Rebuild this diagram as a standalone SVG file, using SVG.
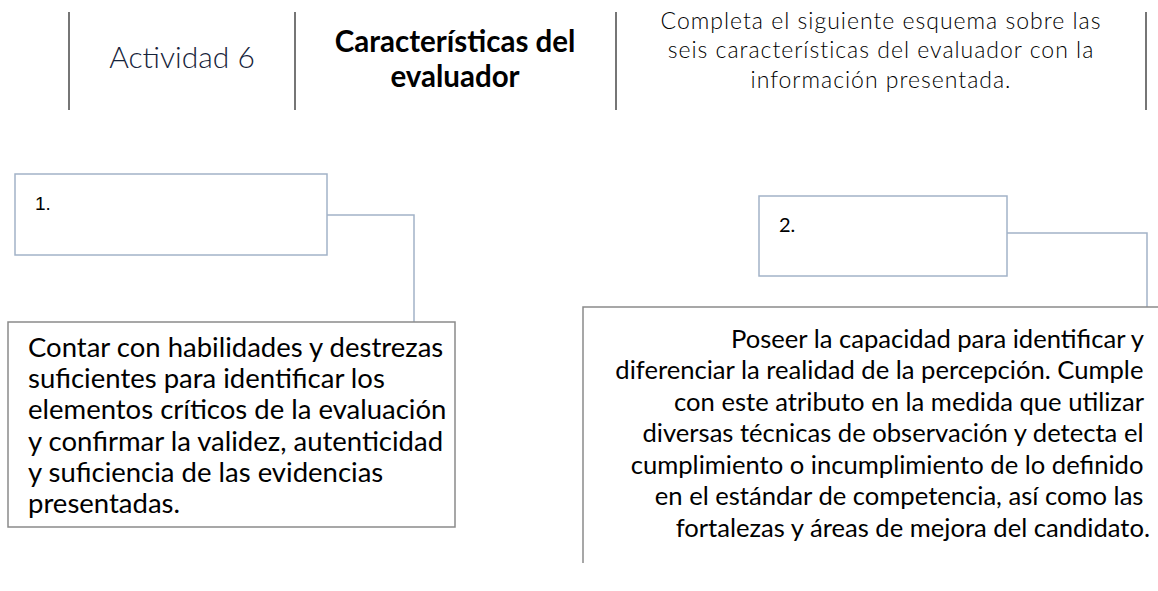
<svg xmlns="http://www.w3.org/2000/svg" width="1158" height="591" viewBox="0 0 1158 591">
<style>
.hdr{stroke:#767676;stroke-width:2;fill:none}
.hand{font-family:Lato,"Open Sans",sans-serif;font-weight:300;fill:#000}
.title{font-family:Lato,"Liberation Sans",sans-serif;font-weight:700;font-size:29.5px;fill:#000;text-anchor:middle}
.sbox{fill:#fff;stroke:#a2b3c8;stroke-width:1.5}
.gbox{fill:#fff;stroke:#8a8a8a;stroke-width:1.5}
.conn{fill:none;stroke:#a2b3c8;stroke-width:1.5}
.body{font-family:Lato,"Liberation Sans",sans-serif;fill:#000}
</style>
<rect width="1158" height="591" fill="#fff"/>
<g id="header">
<line class="hdr" x1="69" y1="12" x2="69" y2="110"/>
<line class="hdr" x1="295" y1="12" x2="295" y2="110"/>
<line class="hdr" x1="616" y1="12" x2="616" y2="110"/>
<line class="hdr" x1="1146" y1="12" x2="1146" y2="110"/>
<text class="hand" x="182" y="68" font-size="30" text-anchor="middle" style="fill:#16233a">Actividad 6</text>
<text class="title" x="455" y="52">Características del</text>
<text class="title" x="455" y="87">evaluador</text>
<text class="hand" x="881" y="29" font-size="23" letter-spacing="1" text-anchor="middle">Completa el siguiente esquema sobre las</text>
<text class="hand" x="881" y="58" font-size="23" letter-spacing="1" text-anchor="middle">seis características del evaluador con la</text>
<text class="hand" x="881" y="88" font-size="23" letter-spacing="1" text-anchor="middle">información presentada.</text>
</g>
<g id="connectors">
<polyline class="conn" points="327,215 414,215 414,322"/>
<polyline class="conn" points="1007,233 1147,233 1147,307"/>
</g>
<g id="node1">
<rect class="sbox" x="15" y="174" width="312" height="81"/>
<text x="35" y="210" font-family="'Liberation Sans',Arial,sans-serif" font-size="19" fill="#000">1.</text>
</g>
<g id="node2">
<rect class="sbox" x="759" y="196" width="248" height="80"/>
<text class="body" x="779" y="232" font-size="20">2.</text>
</g>
<g id="desc1">
<rect class="gbox" x="8" y="322" width="447" height="205"/>
<text class="body" font-size="27.5">
<tspan x="28" y="357">Contar con habilidades y destrezas</tspan>
<tspan x="28" y="388">suficientes para identificar los</tspan>
<tspan x="28" y="419">elementos críticos de la evaluación</tspan>
<tspan x="28" y="451">y confirmar la validez, autenticidad</tspan>
<tspan x="28" y="482">y suficiencia de las evidencias</tspan>
<tspan x="28" y="513">presentadas.</tspan>
</text>
</g>
<g id="desc2">
<polyline class="gbox" style="fill:none" points="583,563 583,307 1158,307"/>
<text class="body" font-size="25.6" text-anchor="end">
<tspan x="1150" y="348">Poseer la capacidad para identificar y</tspan>
<tspan x="1150" y="379">diferenciar la realidad de la percepción. Cumple</tspan>
<tspan x="1150" y="411">con este atributo en la medida que utilizar</tspan>
<tspan x="1150" y="442">diversas técnicas de observación y detecta el</tspan>
<tspan x="1150" y="474">cumplimiento o incumplimiento de lo definido</tspan>
<tspan x="1150" y="505">en el estándar de competencia, así como las</tspan>
<tspan x="1150" y="537">fortalezas y áreas de mejora del candidato.</tspan>
</text>
</g>
</svg>
